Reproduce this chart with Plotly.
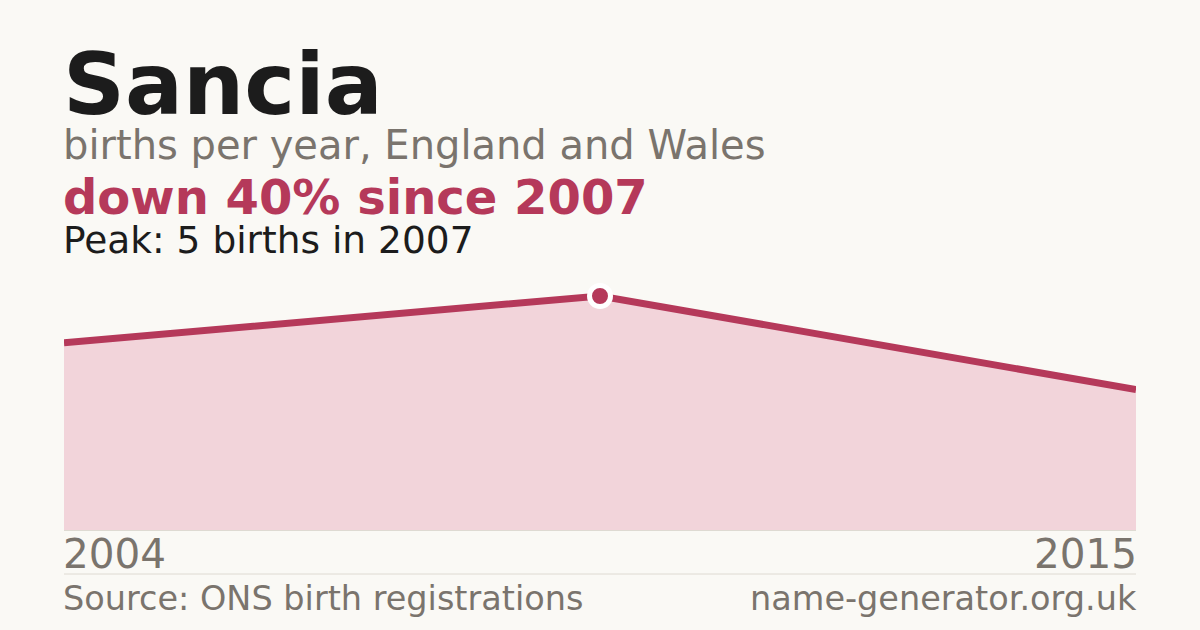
import plotly.graph_objects as go

# data
name = "Sancia"
years = ["2004", "2007", "2015"]
births = [4, 5, 3]
peak_year = "2007"
peak_value = 5
change_text = "down 40% since 2007"

BG = "#faf9f5"
RED = "#b5395a"
FILL = "#f2d4da"
GREY = "#7a746d"
DARK = "#1c1c1c"
RULE = "#dedad2"
FONT = "DejaVu Sans"

# plot area in pixels: left 64, right 1136, top 270, bottom 530
TOP, BOTTOM = 270, 530
PLOT_W = 1072
PAD = 3 / PLOT_W  # annotations carry a few pixels of padding


def py(px):
    # pixel row -> paper y
    return (BOTTOM - px) / (BOTTOM - TOP)


fig = go.Figure()

fig.add_trace(go.Scatter(
    x=years, y=births, mode="lines",
    line=dict(color=RED, width=7),
    fill="tozeroy", fillcolor=FILL,
    hoverinfo="skip", showlegend=False,
))

fig.add_trace(go.Scatter(
    x=[peak_year], y=[peak_value], mode="markers",
    marker=dict(color=RED, size=21, line=dict(color="white", width=5)),
    hoverinfo="skip", showlegend=False,
))

texts = [
    (name, 84, 86, DARK, True),
    ("births per year, England and Wales", 145, 40, GREY, False),
    (change_text, 197, 48, RED, True),
    ("Peak: %d births in %s" % (peak_value, peak_year), 240, 37.5, DARK, False),
]
annotations = []
for txt, y, size, color, bold in texts:
    annotations.append(dict(
        text="<b>%s</b>" % txt if bold else txt,
        xref="paper", yref="paper", x=-PAD, y=py(y),
        xanchor="left", yanchor="middle", showarrow=False,
        font=dict(family=FONT, size=size, color=color),
    ))

# end year labels and footer
annotations += [
    dict(text=years[0], xref="paper", yref="paper", x=-PAD, y=py(554),
         xanchor="left", yanchor="middle", showarrow=False,
         font=dict(family=FONT, size=40.5, color=GREY)),
    dict(text=years[-1], xref="paper", yref="paper", x=1 + PAD, y=py(554),
         xanchor="right", yanchor="middle", showarrow=False,
         font=dict(family=FONT, size=40.5, color=GREY)),
    dict(text="Source: ONS birth registrations", xref="paper", yref="paper",
         x=-PAD, y=py(598), xanchor="left", yanchor="middle", showarrow=False,
         font=dict(family=FONT, size=33.5, color=GREY)),
    dict(text="name-generator.org.uk", xref="paper", yref="paper",
         x=1 + PAD, y=py(598), xanchor="right", yanchor="middle",
         showarrow=False, font=dict(family=FONT, size=33.5, color=GREY)),
]

fig.update_layout(
    width=1200, height=630,
    margin=dict(l=64, r=64, t=TOP, b=630 - BOTTOM),
    paper_bgcolor=BG, plot_bgcolor=BG,
    annotations=annotations,
    shapes=[dict(type="line", xref="paper", yref="paper", x0=0, x1=1,
                 y0=py(574), y1=py(574), line=dict(color=RULE, width=1))],
    xaxis=dict(type="category", range=[0, len(years) - 1], showgrid=False,
               zeroline=False, showticklabels=False, showline=True,
               linecolor=RULE, linewidth=1),
    yaxis=dict(range=[0, peak_value / 0.9], showgrid=False, zeroline=False,
               showticklabels=False, showline=False),
)

# drop the browser's default page margin so the figure sits at 0,0
fig.write_html("out.html", config={"displayModeBar": False},
               post_script="document.body.style.margin='0';")
